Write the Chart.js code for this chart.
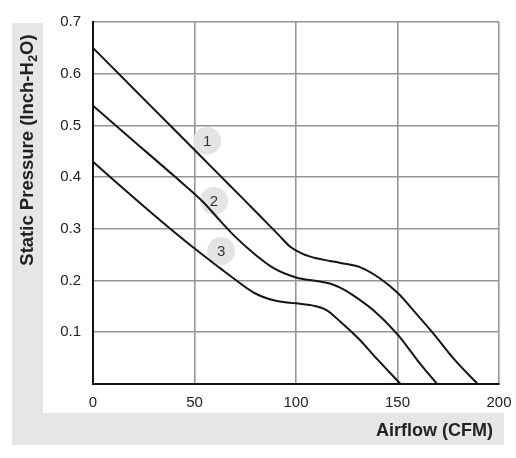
<!DOCTYPE html>
<html>
<head>
<meta charset="utf-8">
<script src="https://cdn.jsdelivr.net/npm/chart.js@4.4.1/dist/chart.umd.min.js"></script>
<style>
  html, body { margin: 0; padding: 0; background: #ffffff; }
  #wrap { width: 516px; height: 458px; position: relative; }
</style>
</head>
<body>
<div id="wrap"><canvas id="grafico" width="516" height="458"></canvas></div>
<script>
// curve data: airflow (CFM) vs static pressure (inch H2O)
const curve1X = [0, 20, 40, 62.6, 74, 85, 92, 97, 103, 110, 116.7, 122, 131.5, 141.4, 150.4, 159, 167.6, 178.3, 189.5];
const curve1Y = [0.65, 0.571, 0.492, 0.403, 0.358, 0.314, 0.286, 0.266, 0.252, 0.243, 0.238, 0.234, 0.226, 0.204, 0.175, 0.137, 0.098, 0.046, 0];

const curve2X = [0, 20, 40, 54, 63, 70, 80, 89, 100, 110, 117, 122, 128, 138, 150, 161, 169.5];
const curve2Y = [0.538, 0.47, 0.402, 0.353, 0.314, 0.285, 0.25, 0.224, 0.206, 0.199, 0.194, 0.186, 0.172, 0.143, 0.096, 0.04, 0];

const curve3X = [0, 10, 30, 51, 62.6, 70, 80, 90, 100, 108, 115, 122, 131, 140, 151.5];
const curve3Y = [0.43, 0.395, 0.327, 0.259, 0.224, 0.202, 0.175, 0.161, 0.156, 0.152, 0.143, 0.12, 0.087, 0.048, 0];

// numbered markers on the curves
const markerNames = ['1', '2', '3'];
const markerX = [56.2, 59.6, 63.1];
const markerY = [0.470, 0.354, 0.257];

const xTicks = [0, 50, 100, 150, 200];
const yTicks = [0, 0.1, 0.2, 0.3, 0.4, 0.5, 0.6, 0.7];

const toPoints = (xs, ys) => xs.map((x, i) => ({ x: x, y: ys[i] }));

const lineStyle = {
    type: 'line',
    borderColor: '#151515',
    borderWidth: 2,
    pointRadius: 0,
    fill: false,
    cubicInterpolationMode: 'monotone',
    order: 1
};

// gray L-shaped frame and the axis titles
const framePlugin = {
    id: 'frame',
    beforeDraw(chart) {
        const ctx = chart.ctx;
        ctx.save();
        ctx.fillStyle = '#ffffff';
        ctx.fillRect(0, 0, chart.width, chart.height);
        ctx.fillStyle = '#e6e6e7';
        ctx.fillRect(12, 23, 31, 422);
        ctx.fillRect(12, 413, 492, 32);
        ctx.restore();
    },
    afterDraw(chart) {
        const ctx = chart.ctx;
        ctx.save();
        ctx.fillStyle = '#222222';
        // x title
        ctx.font = 'bold 18px "Liberation Sans", Arial, sans-serif';
        ctx.textAlign = 'right';
        ctx.textBaseline = 'middle';
        ctx.fillText('Airflow (CFM)', 493, 431);

        // y title with subscript 2
        ctx.translate(28, 150);
        ctx.rotate(-Math.PI / 2);
        const big = 'bold 18.5px "Liberation Sans", Arial, sans-serif';
        const small = 'bold 13px "Liberation Sans", Arial, sans-serif';
        const parts = [['Static Pressure (Inch-H', big, 0], ['2', small, 5], ['O)', big, 0]];
        let total = 0;
        parts.forEach(p => { ctx.font = p[1]; total += ctx.measureText(p[0]).width; });
        let x = -total / 2;
        ctx.textAlign = 'left';
        ctx.textBaseline = 'middle';
        parts.forEach(p => {
            ctx.font = p[1];
            ctx.fillText(p[0], x, p[2]);
            x += ctx.measureText(p[0]).width;
        });
        ctx.restore();
    }
};

// numbers inside the gray circles
const markerLabels = {
    id: 'markerLabels',
    afterDatasetsDraw(chart) {
        const ctx = chart.ctx;
        const xs = chart.scales.x, ys = chart.scales.y;
        ctx.save();
        ctx.fillStyle = '#333333';
        ctx.font = '15px "Liberation Sans", Arial, sans-serif';
        ctx.textAlign = 'center';
        ctx.textBaseline = 'middle';
        markerNames.forEach((n, i) => {
            ctx.fillText(n, xs.getPixelForValue(markerX[i]), ys.getPixelForValue(markerY[i]) + 1);
        });
        ctx.restore();
    }
};

new Chart(document.getElementById('grafico'), {
    data: {
        datasets: [
            Object.assign({ label: '1', data: toPoints(curve1X, curve1Y) }, lineStyle),
            Object.assign({ label: '2', data: toPoints(curve2X, curve2Y) }, lineStyle),
            Object.assign({ label: '3', data: toPoints(curve3X, curve3Y) }, lineStyle),
            {
                type: 'scatter',
                label: 'markers',
                data: toPoints(markerX, markerY),
                pointRadius: 14,
                pointHoverRadius: 14,
                backgroundColor: '#e4e4e4',
                borderWidth: 0,
                order: 2
            }
        ]
    },
    options: {
        responsive: false,
        animation: false,
        events: [],
        layout: { padding: { top: 22, right: 17, left: 0, bottom: 0 } },
        plugins: {
            legend: { display: false },
            tooltip: { enabled: false }
        },
        scales: {
            x: {
                type: 'linear',
                min: 0,
                max: 200,
                afterBuildTicks: s => { s.ticks = xTicks.map(v => ({ value: v })); },
                afterFit: s => { s.height = 74; s.paddingLeft = 0; s.paddingRight = 0; },
                grid: { color: '#959595', lineWidth: 1.6, drawTicks: false },
                border: { color: '#111111', width: 2 },
                ticks: {
                    padding: 10,
                    color: '#222222',
                    font: { family: '"Liberation Sans", Arial, sans-serif', size: 15 }
                }
            },
            y: {
                type: 'linear',
                min: 0,
                max: 0.7,
                afterBuildTicks: s => { s.ticks = yTicks.map(v => ({ value: v })); },
                afterFit: s => { s.width = 93; s.paddingTop = 0; s.paddingBottom = 0; },
                grid: { color: '#959595', lineWidth: 1.6, drawTicks: false },
                border: { color: '#111111', width: 2 },
                ticks: {
                    padding: 12,
                    color: '#222222',
                    font: { family: '"Liberation Sans", Arial, sans-serif', size: 15 },
                    callback: v => v === 0 ? '' : v.toFixed(1)
                }
            }
        }
    },
    plugins: [framePlugin, markerLabels]
});
</script>
</body>
</html>
